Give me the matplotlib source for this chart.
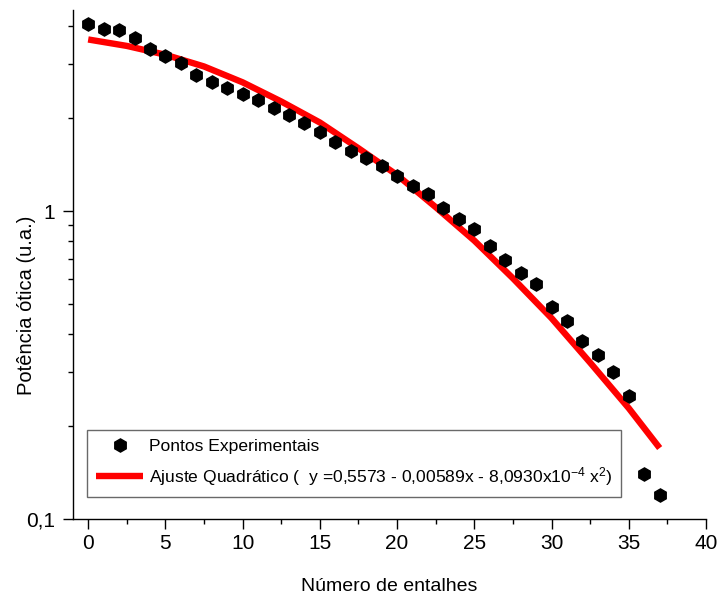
import numpy as np
import matplotlib
matplotlib.use("Agg")
from matplotlib import pyplot as plt
from matplotlib.ticker import FixedLocator, FixedFormatter, MultipleLocator, LogLocator, NullFormatter

plt.rcParams["font.family"] = ["Liberation Sans", "DejaVu Sans"]
plt.rcParams["mathtext.fontset"] = "custom"
plt.rcParams["mathtext.rm"] = "Liberation Sans"
plt.rcParams["mathtext.it"] = "Liberation Sans"

n_entalhes = np.arange(0, 38)
potencia = [4.05, 3.89, 3.87, 3.65, 3.37, 3.19, 3.02, 2.76, 2.63, 2.51,
            2.40, 2.29, 2.16, 2.045, 1.926, 1.81, 1.68, 1.566, 1.483, 1.40,
            1.302, 1.209, 1.133, 1.025, 0.940, 0.872, 0.771, 0.692, 0.630, 0.581,
            0.489, 0.440, 0.380, 0.340, 0.300, 0.250, 0.140, 0.1197]

# quadratic fit curve
x_ajuste = [0, 2.5, 5, 7.5, 10, 12.5, 15, 17.5, 20, 22.5, 25, 27.5, 30, 32.5, 35, 37]
y_ajuste = [3.61, 3.44, 3.22, 2.95, 2.62, 2.27, 1.94, 1.60, 1.31, 1.03,
            0.802, 0.605, 0.449, 0.322, 0.229, 0.170]

leg_pontos = "Pontos Experimentais"
leg_ajuste = r"Ajuste Quadrático (  y =0,5573 - 0,00589x - 8,0930x10$^{-4}$ x$^{2}$)"

fig = plt.figure(figsize=(7.18, 5.95), dpi=100)
ax = fig.add_axes([0.1013, 0.1277, 0.8820, 0.8555])

ax.plot(n_entalhes, potencia, linestyle="none", marker="h", ms=9.5,
        color="black", label=leg_pontos, zorder=3)
ax.plot(x_ajuste, y_ajuste, color="#ff0000", lw=4.6, label=leg_ajuste,
        solid_capstyle="butt", zorder=2)

ax.set_yscale("log")
ax.set_xlim(-1, 40)
ax.set_ylim(0.1, 4.5)

ax.xaxis.set_major_locator(MultipleLocator(5))
ax.xaxis.set_minor_locator(MultipleLocator(2.5))
ax.yaxis.set_major_locator(FixedLocator([0.1, 1]))
ax.yaxis.set_major_formatter(FixedFormatter(["0,1", "1"]))
ax.yaxis.set_minor_locator(LogLocator(base=10, subs=np.arange(2, 10)))
ax.yaxis.set_minor_formatter(NullFormatter())

for s in ("top", "right"):
    ax.spines[s].set_visible(False)
for s in ("left", "bottom"):
    ax.spines[s].set_linewidth(1.0)

ax.tick_params(which="major", direction="out", length=7, width=1, labelsize=15)
ax.tick_params(which="minor", direction="out", length=3.6, width=1)
ax.tick_params(axis="x", which="major", pad=4)
ax.tick_params(axis="y", which="major", pad=6)

ax.set_xlabel("Número de entalhes", fontsize=14)
ax.set_ylabel("Potência ótica (u.a.)", fontsize=14.5)
ax.xaxis.set_label_coords(0.5, -0.115)
ax.yaxis.set_label_coords(-0.058, 0.42)

leg = ax.legend(loc="lower left", bbox_to_anchor=(0.023, 0.044), borderaxespad=0,
                fontsize=12.6, frameon=True, fancybox=False, edgecolor="#444444",
                handlelength=2.7, handletextpad=0.3, borderpad=0.5, labelspacing=0.6)
leg.get_frame().set_linewidth(1.0)

fig.savefig("out.png", dpi=100)
